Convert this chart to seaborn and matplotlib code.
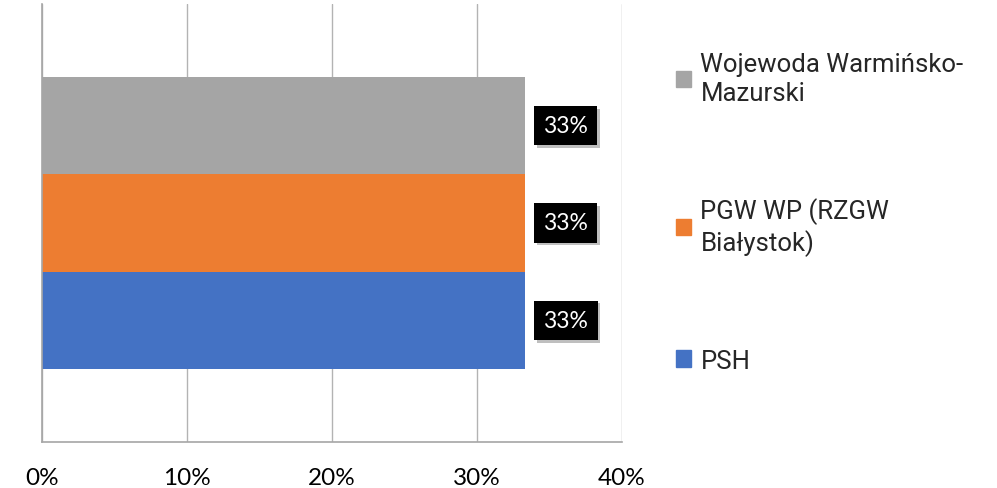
import numpy as np
import pandas as pd
import matplotlib
matplotlib.use('Agg')
import matplotlib.pyplot as plt
import matplotlib.patheffects as pe
from matplotlib.patches import Patch
import seaborn as sbn

# dane
kategoria = ['']
serie = ['Wojewoda Warmińsko-\nMazurski', 'PGW WP (RZGW\nBiałystok)', 'PSH']
udzialy = [0.3333, 0.3333, 0.3334]
kolory = ['#A5A5A5', '#ED7D31', '#4472C4']
ticki = [0, 0.1, 0.2, 0.3, 0.4]
tick_etykiety = ['0%', '10%', '20%', '30%', '40%']

df = pd.DataFrame({'kat': kategoria * 3, 'seria': serie, 'udzial': udzialy})

sbn.set_style('white')
plt.rcParams['font.family'] = ['Lato', 'DejaVu Sans']

fig = plt.figure(figsize=(9.97, 4.89), dpi=100)
ax = fig.add_axes([42/997, 1-443/489, 580/997, 438/489])

sbn.barplot(df, y='kat', x='udzial', hue='seria', hue_order=serie, palette=kolory,
            orient='h', width=0.667, saturation=1, legend=False, linewidth=0, ax=ax)

ax.set_xlim(0, 0.4)
ax.set_ylim(0.5, -0.5)
ax.set_xticks(ticki)
ax.set_xticklabels(tick_etykiety)
ax.set_yticks([])
ax.set_xlabel('')
ax.set_ylabel('')
ax.grid(axis='x', color='#b3b3b3', lw=1)
ax.set_axisbelow(True)
for s in ['top', 'right']:
    ax.spines[s].set_visible(False)
for s in ['left', 'bottom']:
    ax.spines[s].set_color('#a6a6a6')
    ax.spines[s].set_linewidth(1.2)
ax.tick_params(axis='x', length=0, pad=18, labelsize=17.5, labelcolor='black')

# etykiety danych
for c in ax.containers:
    teksty = ax.bar_label(c, labels=[f'{v:.0%}' for v in c.datavalues], padding=13,
                          color='white', fontsize=16.5,
                          bbox=dict(boxstyle='square,pad=0.4', fc='black', ec='none'))
    for t in teksty:
        t.get_bbox_patch().set_path_effects([pe.SimplePatchShadow(offset=(2, -2), shadow_rgbFace='gray', alpha=0.5),
                                             pe.Normal()])

uchwyty = [Patch(color=k, label=s) for k, s in zip(kolory, serie)]
leg = fig.legend(handles=uchwyty, loc='upper left', bbox_to_anchor=(676/997, 1-53/489),
                 frameon=False, prop={'family': 'Roboto', 'size': 18.5},
                 handlelength=0.6, handleheight=0.6, handletextpad=0.35,
                 labelspacing=3.6, borderaxespad=0, borderpad=0)
for t in leg.get_texts():
    t.set_linespacing(1.25)

fig.savefig('out.png', dpi=100)
